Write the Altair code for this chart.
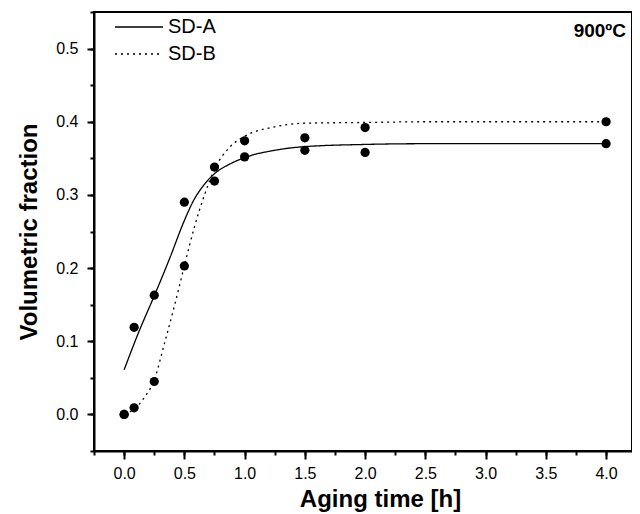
import altair as alt
import pandas as pd

# fitted curves
a_curve_x = [0, 0.125, 0.25, 0.375, 0.5, 0.575, 0.65, 0.75, 0.875, 1.0, 1.25, 1.5, 2.0, 2.5, 3.0, 3.5, 4.0]
a_curve_y = [0.061, 0.114, 0.162, 0.212, 0.265, 0.292, 0.311, 0.329, 0.342, 0.351, 0.361, 0.366, 0.369, 0.370, 0.370, 0.370, 0.370]
b_curve_x = [0, 0.083, 0.167, 0.25, 0.333, 0.417, 0.5, 0.583, 0.667, 0.75, 0.875, 1.0, 1.25, 1.5, 2.0, 2.5, 3.0, 3.5, 4.0]
b_curve_y = [0.001, 0.007, 0.023, 0.047, 0.096, 0.148, 0.203, 0.256, 0.300, 0.335, 0.365, 0.380, 0.393, 0.398, 0.399, 0.400, 0.400, 0.400, 0.400]

# measured points
pt_x = [0, 0.083, 0.25, 0.5, 0.75, 1.0, 1.5, 2.0, 4.0]
a_pt_y = [0.0, 0.119, 0.163, 0.290, 0.319, 0.352, 0.361, 0.358, 0.370]
b_pt_y = [0.0, 0.009, 0.045, 0.203, 0.338, 0.374, 0.378, 0.392, 0.400]

series = ["SD-A", "SD-B"]

# axis tick positions
x_major = [0, 0.5, 1.0, 1.5, 2.0, 2.5, 3.0, 3.5, 4.0]
x_minor = [-0.25, 0, 0.25, 0.5, 0.75, 1.0, 1.25, 1.5, 1.75, 2.0, 2.25, 2.5, 2.75, 3.0, 3.25, 3.5, 3.75, 4.0]
y_major = [0.0, 0.1, 0.2, 0.3, 0.4, 0.5]
y_minor = [-0.05, 0.0, 0.05, 0.1, 0.15, 0.2, 0.25, 0.3, 0.35, 0.4, 0.45, 0.5, 0.55]

curves = pd.DataFrame(
    {"t": a_curve_x + b_curve_x,
     "v": a_curve_y + b_curve_y,
     "s": [series[0]] * len(a_curve_x) + [series[1]] * len(b_curve_x)}
)
points = pd.DataFrame(
    {"t": pt_x + pt_x,
     "v": a_pt_y + b_pt_y,
     "s": [series[0]] * len(pt_x) + [series[1]] * len(pt_x)}
)

x_scale = alt.Scale(domain=[-0.25, 4.215], nice=False, zero=False)
y_scale = alt.Scale(domain=[-0.05, 0.55], nice=False, zero=False)

x_enc_major = alt.X(
    "t:Q", scale=x_scale,
    axis=alt.Axis(
        title="Aging time [h]", orient="bottom", values=x_major, format=".1f",
        tickSize=8, labelPadding=6, titlePadding=6, titleX=286,
    ),
)
y_enc_major = alt.Y(
    "v:Q", scale=y_scale,
    axis=alt.Axis(
        title="Volumetric fraction", orient="left", values=y_major, format=".1f",
        tickSize=7, labelPadding=9, titlePadding=14,
    ),
)
x_enc_minor = alt.X(
    "t:Q", scale=x_scale,
    axis=alt.Axis(title=None, orient="bottom", values=x_minor, tickSize=4, labels=False, domain=False),
)
y_enc_minor = alt.Y(
    "v:Q", scale=y_scale,
    axis=alt.Axis(title=None, orient="left", values=y_minor, tickSize=4, labels=False, domain=False),
)

lines = alt.Chart(curves).mark_line(color="black", strokeWidth=1.3, interpolate="monotone").encode(
    x=x_enc_major,
    y=y_enc_major,
    strokeDash=alt.StrokeDash(
        "s:N",
        scale=alt.Scale(domain=series, range=[[1, 0], [2, 4]]),
        legend=alt.Legend(
            title=None,
            orient="none",
            legendX=35,
            legendY=5,
            symbolType="M-4,0H4",
            symbolSize=144,
            symbolStrokeWidth=1.3,
            symbolStrokeColor="black",
            symbolFillColor="transparent",
            labelFont="Liberation Sans",
            labelFontSize=20,
            labelColor="black",
            labelOffset=19,
            rowPadding=7,
            padding=0,
        ),
    ),
)

dots = alt.Chart(points).mark_point(filled=True, color="black", size=85, opacity=1).encode(
    x=x_enc_minor, y=y_enc_minor
)

label = alt.Chart(pd.DataFrame({"txt": ["900ºC"]})).mark_text(
    font="Liberation Sans", fontSize=19, fontWeight="bold", align="right", baseline="middle", color="black"
).encode(text="txt:N", x=alt.value(532), y=alt.value(19))

chart = (
    alt.layer(lines, dots, label)
    .resolve_axis(x="independent", y="independent")
    .properties(
        width=538,
        height=439,
        autosize=alt.AutoSizeParams(type="none"),
        padding={"left": 86, "top": 4, "right": 0, "bottom": 62},
        background="white",
    )
    .configure_view(stroke="black", strokeWidth=2)
    .configure_axis(
        grid=False,
        domainColor="black",
        domainWidth=2,
        tickColor="black",
        tickWidth=2,
        labelFont="Liberation Sans",
        labelFontSize=16,
        labelColor="black",
        titleFont="Liberation Sans",
        titleFontSize=24,
        titleFontWeight="bold",
        titleColor="black",
    )
)

chart.save("out.html", embed_options={"renderer": "svg", "actions": False})
